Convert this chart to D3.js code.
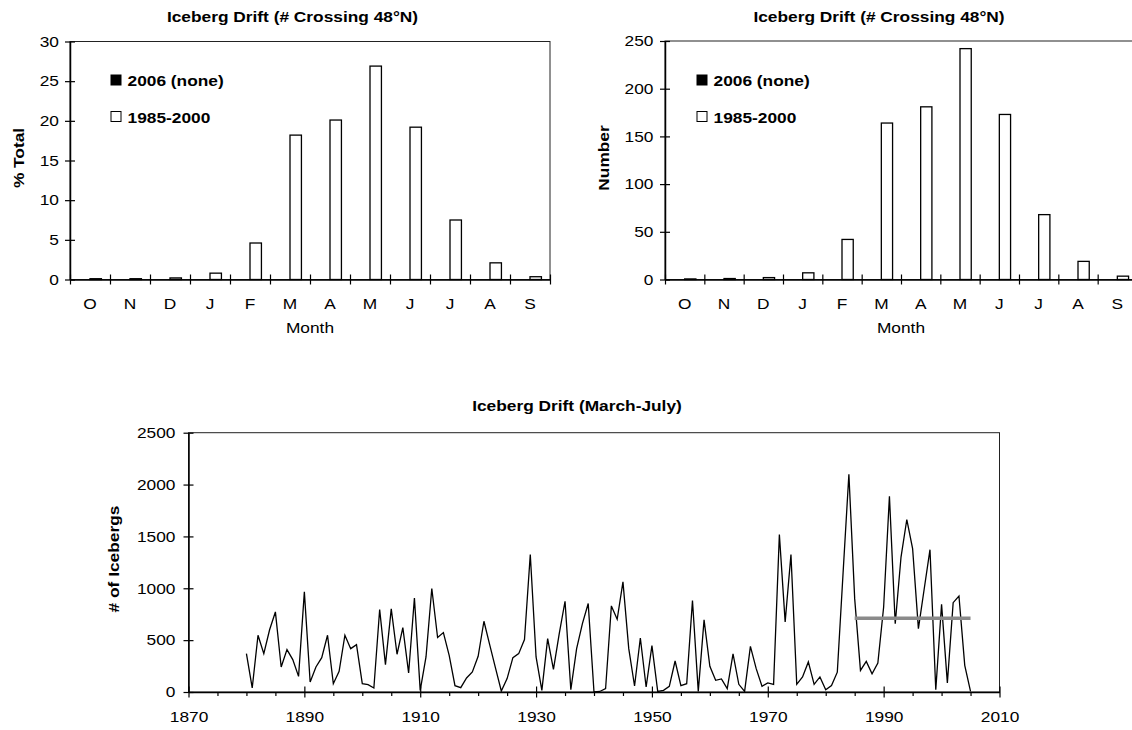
<!DOCTYPE html>
<html>
<head>
<meta charset="utf-8">
<script src="https://cdn.jsdelivr.net/npm/d3@7"></script>
<style>
  html, body { margin: 0; padding: 0; background: #fff; }
  svg { display: block; font-family: "Liberation Sans", Arial, Helvetica, sans-serif; }
</style>
</head>
<body>
<svg id="chart" width="1132" height="730"></svg>
<script>
// ---- monthly distribution of icebergs crossing 48°N ----
const months = ["O", "N", "D", "J", "F", "M", "A", "M", "J", "J", "A", "S"];
const seriesNames = ["2006 (none)", "1985-2000"];
const pct2006 = [0, 0, 0, 0, 0, 0, 0, 0, 0, 0, 0, 0];
const pct1985_2000 = [0.1, 0.1, 0.2, 0.8, 4.6, 18.2, 20.1, 26.9, 19.2, 7.5, 2.1, 0.35];
const num2006 = [0, 0, 0, 0, 0, 0, 0, 0, 0, 0, 0, 0];
const num1985_2000 = [0.6, 1, 2, 7, 42, 164, 181, 242, 173, 68, 19, 3.5];
const pctTicks = [0, 5, 10, 15, 20, 25, 30];
const numTicks = [0, 50, 100, 150, 200, 250];

// ---- yearly March-July iceberg counts ----
const driftYears = [
  1880, 1881, 1882, 1883, 1884, 1885, 1886, 1887, 1888, 1889,
  1890, 1891, 1892, 1893, 1894, 1895, 1896, 1897, 1898, 1899,
  1900, 1901, 1902, 1903, 1904, 1905, 1906, 1907, 1908, 1909,
  1910, 1911, 1912, 1913, 1914, 1915, 1916, 1917, 1918, 1919,
  1920, 1921, 1922, 1923, 1924, 1925, 1926, 1927, 1928, 1929,
  1930, 1931, 1932, 1933, 1934, 1935, 1936, 1937, 1938, 1939,
  1940, 1941, 1942, 1943, 1944, 1945, 1946, 1947, 1948, 1949,
  1950, 1951, 1952, 1953, 1954, 1955, 1956, 1957, 1958, 1959,
  1960, 1961, 1962, 1963, 1964, 1965, 1966, 1967, 1968, 1969,
  1970, 1971, 1972, 1973, 1974, 1975, 1976, 1977, 1978, 1979,
  1980, 1981, 1982, 1983, 1984, 1985, 1986, 1987, 1988, 1989,
  1990, 1991, 1992, 1993, 1994, 1995, 1996, 1997, 1998, 1999,
  2000, 2001, 2002, 2003, 2004, 2005
];
const driftCounts = [
  370, 39, 547, 370, 600, 772, 241, 409, 312, 151,
  965, 97, 241, 331, 547, 80, 200, 547, 418, 457,
  80, 71, 39, 795, 264, 801, 364, 621, 183, 907,
  16, 338, 998, 525, 573, 354, 61, 42, 135, 193,
  344, 682, 455, 230, 10, 129, 331, 370, 505, 1326,
  338, 16, 515, 219, 563, 875, 23, 418, 660, 853,
  0, 5, 32, 830, 701, 1062, 418, 58, 521, 48,
  447, 6, 16, 55, 299, 61, 80, 882, 6, 695,
  248, 113, 126, 32, 367, 74, 6, 440, 225, 55,
  87, 74, 1519, 676, 1326, 74, 145, 290, 74, 145,
  21, 63, 191, 1150, 2100, 900, 208, 295, 175, 278,
  820, 1888, 658, 1301, 1663, 1383, 611, 993, 1372, 21,
  845, 88, 861, 925, 257, 6
];
const meanYears = [1985, 2005];
const meanCount = 711;
const countTicks = [0, 500, 1000, 1500, 2000, 2500];
const yearTicks = [1870, 1890, 1910, 1930, 1950, 1970, 1990, 2010];
const minorYearTicks = [1875, 1880, 1885, 1895, 1900, 1905, 1915, 1920, 1925,
  1935, 1940, 1945, 1955, 1960, 1965, 1975, 1980, 1985, 1995, 2000, 2005];

const svg = d3.select("#chart");
const SX = 1.155;          // horizontal widening of the lettering
const FS = 15;

function txt(parent, x, y, s, opt = {}) {
  const anchor = opt.anchor || "middle";
  return parent.append("text")
    .attr("transform", `translate(${x},${y})` + (opt.rotate ? " rotate(-90)" : "") + ` scale(${SX},1)`)
    .attr("text-anchor", anchor)
    .attr("font-size", opt.size || FS)
    .attr("font-weight", opt.bold ? "bold" : "normal")
    .attr("fill", "#000")
    .text(s);
}

function styleAxis(g) {
  g.select(".domain").attr("stroke", "#000").attr("stroke-width", 1.5);
  g.selectAll(".tick line").attr("stroke", "#000").attr("stroke-width", 1.2);
}

// ---- clustered bar chart ----
function barChart(cfg) {
  const g = svg.append("g");
  const x = d3.scaleBand().domain(d3.range(months.length)).range([cfg.left, cfg.right]).paddingInner(0).paddingOuter(0);
  const xs = d3.scaleBand().domain([0, 1]).range([0, x.bandwidth()]).paddingInner(0).paddingOuter(0.75);
  const y = d3.scaleLinear().domain([0, cfg.yMax]).range([cfg.bottom, cfg.top]);

  // plot-area border
  g.append("rect")
    .attr("x", cfg.left).attr("y", cfg.top)
    .attr("width", cfg.right - cfg.left).attr("height", cfg.bottom - cfg.top)
    .attr("fill", "none").attr("stroke", "#222").attr("stroke-width", 1);

  // bars
  const series = [cfg.s0, cfg.s1];
  series.forEach((vals, si) => {
    g.append("g").selectAll("rect").data(vals).join("rect")
      .attr("x", (d, i) => x(i) + xs(si))
      .attr("y", d => y(d))
      .attr("width", xs.bandwidth())
      .attr("height", d => cfg.bottom - y(d))
      .attr("fill", si === 0 ? "#000" : "#fff")
      .attr("stroke", si === 0 ? "none" : "#000")
      .attr("stroke-width", 1.3);
  });

  // y axis
  const ya = g.append("g").attr("transform", `translate(${cfg.left},0)`)
    .call(d3.axisLeft(y).tickValues(cfg.yTicks).tickSize(0).tickSizeOuter(0).tickFormat(d3.format("d")));
  styleAxis(ya);
  ya.selectAll(".tick line").attr("x1", -5).attr("x2", 5);
  ya.selectAll(".tick text")
    .attr("x", -cfg.yGap / SX).attr("transform", `scale(${SX},1)`)
    .attr("font-size", FS).attr("font-family", null).attr("fill", "#000");

  // x axis: boundary ticks
  const xb = d3.scaleLinear().domain([0, months.length]).range([cfg.left, cfg.right]);
  const xa = g.append("g").attr("transform", `translate(0,${cfg.bottom})`)
    .call(d3.axisBottom(xb).tickValues(d3.range(months.length + 1)).tickSize(0).tickSizeOuter(0).tickFormat(""));
  styleAxis(xa);
  xa.selectAll(".tick line").attr("y1", -5).attr("y2", 5);

  // x axis: month labels centred in each category
  const xl = g.append("g").attr("transform", `translate(0,${cfg.bottom})`)
    .call(d3.axisBottom(x).tickSize(0).tickFormat(i => months[i]));
  xl.select(".domain").remove();
  xl.selectAll(".tick text")
    .attr("y", 30).attr("dy", 0).attr("transform", `scale(${SX},1)`)
    .attr("font-size", FS).attr("font-family", null).attr("fill", "#000");

  // titles
  txt(g, cfg.titleX, 22, "Iceberg Drift (# Crossing 48°N)", { bold: true });
  txt(g, (cfg.left + cfg.right) / 2, 333, "Month");
  txt(g, cfg.yTitleX, 158, cfg.yTitle, { bold: true, rotate: true });

  // legend
  const rows = [{ y: 75, fill: "#000" }, { y: 111.5, fill: "#fff" }];
  rows.forEach((r, i) => {
    g.append("rect").attr("x", cfg.legendX).attr("y", r.y).attr("width", 10).attr("height", 10)
      .attr("fill", r.fill).attr("stroke", "#000").attr("stroke-width", 1);
    txt(g, cfg.legendX + 16.5, r.y + 11, seriesNames[i], { bold: true, anchor: "start" });
  });
}

barChart({
  left: 70, right: 550, top: 41.5, bottom: 279.5,
  s0: pct2006, s1: pct1985_2000, yMax: 30, yTicks: pctTicks, yGap: 11,
  yTitle: "% Total", yTitleX: 23.5, titleX: 292.5, legendX: 111
});
barChart({
  left: 665, right: 1137, top: 41, bottom: 279.5,
  s0: num2006, s1: num1985_2000, yMax: 250, yTicks: numTicks, yGap: 11.5,
  yTitle: "Number", yTitleX: 609, titleX: 879, legendX: 697
});

// ---- time series ----
(function () {
  const L = 188.5, R = 999.5, T = 432.7, B = 692;
  const g = svg.append("g");
  const x = d3.scaleLinear().domain([1870, 2010]).range([L, R]);
  const y = d3.scaleLinear().domain([0, 2500]).range([B, T]);

  g.append("rect").attr("x", L).attr("y", T).attr("width", R - L).attr("height", B - T)
    .attr("fill", "none").attr("stroke", "#222").attr("stroke-width", 1);

  const pts = driftYears.map((yr, i) => ({ year: yr, value: driftCounts[i] }));
  g.append("path").datum(pts)
    .attr("fill", "none").attr("stroke", "#000").attr("stroke-width", 1.3).attr("stroke-linejoin", "miter")
    .attr("d", d3.line().x(d => x(d.year)).y(d => y(d.value)));

  g.append("path").datum(meanYears)
    .attr("fill", "none").attr("stroke", "#8a8a8a").attr("stroke-width", 3.5)
    .attr("d", d3.line().x(d => x(d)).y(() => y(meanCount)));

  // y axis
  const ya = g.append("g").attr("transform", `translate(${L},0)`)
    .call(d3.axisLeft(y).tickValues(countTicks).tickSize(0).tickSizeOuter(0).tickFormat(d3.format("d")));
  styleAxis(ya);
  ya.selectAll(".tick line").attr("x1", -5).attr("x2", 5);
  ya.selectAll(".tick text")
    .attr("x", -13 / SX).attr("transform", `scale(${SX},1)`)
    .attr("font-size", FS).attr("font-family", null).attr("fill", "#000");

  // x axis: minor ticks
  const xm = g.append("g").attr("transform", `translate(0,${B})`)
    .call(d3.axisBottom(x).tickValues(minorYearTicks).tickSize(4).tickSizeOuter(0).tickFormat(""));
  xm.select(".domain").remove();
  xm.selectAll(".tick line").attr("stroke", "#000").attr("stroke-width", 1.2);

  // x axis: major ticks with labels
  const xa = g.append("g").attr("transform", `translate(0,${B})`)
    .call(d3.axisBottom(x).tickValues(yearTicks).tickSize(0).tickSizeOuter(0).tickFormat(d3.format("d")));
  styleAxis(xa);
  xa.selectAll(".tick line").attr("y1", -5.5).attr("y2", 5.5);
  xa.selectAll(".tick text")
    .attr("y", 30).attr("dy", 0).attr("transform", `scale(${SX},1)`)
    .attr("font-size", FS).attr("font-family", null).attr("fill", "#000");

  txt(g, 577, 411, "Iceberg Drift (March-July)", { bold: true });
  txt(g, 119, 559, "# of Icebergs", { bold: true, rotate: true });
})();
</script>
</body>
</html>
